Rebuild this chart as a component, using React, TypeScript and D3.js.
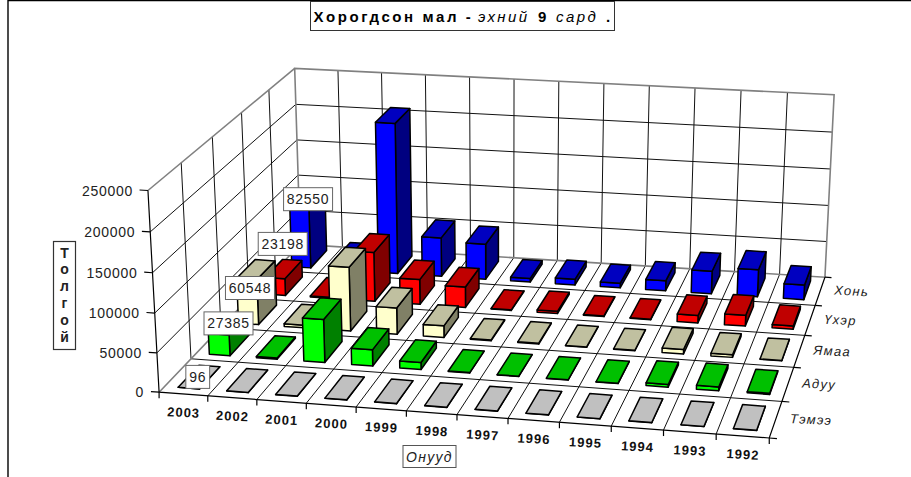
import React from "react";
import * as d3 from "d3";

const years = ["2003","2002","2001","2000","1999","1998","1997","1996","1995","1994","1993","1992"];
const seriesNames = ["Тэмээ","Адуу","Ямаа","Үхэр","Хонь"];
const temee = [96,250,200,200,200,200,200,200,200,200,200,200];
const aduu = [27385,1500,56000,21000,9000,500,300,300,300,3500,5000,1500];
const yamaa = [60548,3500,85000,35000,15500,1000,1000,500,500,6000,3500,500];
const uher = [23198,1500,67000,34000,28000,800,3000,1000,800,10000,14500,4500];
const hon = [82550,14000,208000,54000,49000,5000,8000,6500,14000,31000,37000,20000];
const seriesValues = [temee,aduu,yamaa,uher,hon];
const valueTicks = [0,50000,100000,150000,200000,250000];
const frontColors = ["#C0C0C0","#00FF00","#FFFFCC","#FF0000","#0000FF"];
const topColors = ["#C0C0C0","#00C000","#C0C0A0","#C00000","#0000C0"];
const sideColors = ["#808080","#008000","#808066","#800000","#000080"];
// Pixel nudges of the 2003 data labels from the centre of each bar's top.
const labelNudges: [number,number][] = [[-1.5,0],[0,-0.5],[-6,18.5],[-1,-25],[0.5,-1.5]];

// Cube corners of the 3D plot frame as they appear on the page.
const anchors: [number,number,number,number,number][] = [
  [0,0,0,159.3,391.7],[1,0,0,769.3,438.3],[1,0,1,825,276.7],[0,0,1,300,245],
  [0,1,0,147.7,190.7],[0,1,1,295,68],[1,1,1,834,95],
];
function solveCamera(): number[] {
  const A: number[][] = [], b: number[] = [];
  anchors.forEach(([x,y,z,u,v]) => {
    A.push([x,y,z,1,0,0,0,0,-u*x,-u*y,-u*z]); b.push(u);
    A.push([0,0,0,0,x,y,z,1,-v*x,-v*y,-v*z]); b.push(v);
  });
  const n = 11;
  const M = d3.range(n).map(i => [...d3.range(n).map(j => d3.sum(A, r => r[i]*r[j])), d3.sum(A.map((r,k)=>r[i]*b[k]))]);
  for (let i=0;i<n;i++){
    let p=i; for(let r=i+1;r<n;r++) if(Math.abs(M[r][i])>Math.abs(M[p][i])) p=r;
    [M[i],M[p]]=[M[p],M[i]];
    for(let r=0;r<n;r++){ if(r===i) continue; const f=M[r][i]/M[i][i]; for(let c=i;c<=n;c++) M[r][c]-=f*M[i][c]; }
  }
  return M.map((r,i)=>r[n]/r[i]);
}
const cam = solveCamera();
const P = (x:number,y:number,z:number):[number,number] => {
  const w = cam[8]*x+cam[9]*y+cam[10]*z+1;
  return [(cam[0]*x+cam[1]*y+cam[2]*z+cam[3])/w,(cam[4]*x+cam[5]*y+cam[6]*z+cam[7])/w];
};
const xBand = d3.scaleBand<string>().domain(years).range([0,1]).paddingInner(0.56).paddingOuter(0.28);
const zBand = d3.scaleBand<string>().domain(seriesNames).range([0,1]).paddingInner(0.34).paddingOuter(0.17);
const yScale = d3.scaleLinear().domain([0,250000]).range([0,1]);
const lineGen = d3.line();
const poly = (pts:[number,number][]) => lineGen(pts)+"Z";
const seg = (a:[number,number],b:[number,number]) => lineGen([a,b])!;
const xEdges = d3.range(13).map(i=>i/12);
const zEdges = d3.range(6).map(i=>i/5);
const font = "'Liberation Sans', Arial, sans-serif";
const GRID = "#111";
const WALL = "#808080";

function LabelBox({cx,cy,t}:{cx:number,cy:number,t:string}){
  const w = t.length*8.4+7, h=23;
  return <g>
    <rect x={cx-w/2} y={cy-h/2} width={w} height={h} fill="#fff" stroke="#666" strokeWidth={1}/>
    <text x={cx} y={cy+5} textAnchor="middle" fontFamily={font} fontSize={14} letterSpacing={0.7} fill="#222">{t}</text>
  </g>;
}

export default function App(){
  const bars:React.ReactNode[]=[]; const labels:React.ReactNode[]=[];
  d3.range(seriesNames.length-1,-1,-1).forEach(si=>{
    const s=seriesNames[si];
    years.forEach((yr,xi)=>{
      const v=seriesValues[si][xi];
      const x0=xBand(yr)!,x1=x0+xBand.bandwidth(),z0=zBand(s)!,z1=z0+zBand.bandwidth(),h=yScale(v);
      bars.push(<g key={s+yr} stroke="#000" strokeWidth={1.5} strokeLinejoin="round">
        <path d={poly([P(x1,0,z0),P(x1,0,z1),P(x1,h,z1),P(x1,h,z0)])} fill={sideColors[si]}/>
        <path d={poly([P(x0,0,z0),P(x1,0,z0),P(x1,h,z0),P(x0,h,z0)])} fill={frontColors[si]}/>
        <path d={poly([P(x0,h,z0),P(x1,h,z0),P(x1,h,z1),P(x0,h,z1)])} fill={topColors[si]}/>
      </g>);
      if(xi===0){
        const [cx,cy]=P((x0+x1)/2,h,(z0+z1)/2);
        const [dx,dy]=labelNudges[si];
        labels.push(<LabelBox key={s} cx={cx+dx} cy={cy+dy} t={String(v)}/>);
      }
    });
  });
  return <svg width={911} height={477} style={{position:"absolute",left:0,top:0,background:"#fff"}}>
    <path d="M8,477V0.6H911" fill="none" stroke="#000" strokeWidth={1.4}/>
    <g fill="none" stroke={GRID} strokeWidth={1}>
      {valueTicks.slice(1,-1).map(t=>{const y=yScale(t);return <g key={t}>
        <path d={seg(P(0,y,0),P(0,y,1))}/><path d={seg(P(0,y,1),P(1,y,1))}/></g>;})}
      {xEdges.slice(1,-1).map(x=><path key={x} d={seg(P(x,0,1),P(x,1,1))}/>)}
      {zEdges.slice(1,-1).map(z=><path key={z} d={seg(P(0,0,z),P(0,1,z))}/>)}
      {xEdges.slice(1,-1).map(x=><path key={"f"+x} d={seg(P(x,0,0),P(x,0,1))}/>)}
      {zEdges.slice(1,-1).map(z=><path key={"g"+z} d={seg(P(0,0,z),P(1,0,z))}/>)}
    </g>
    <path d={lineGen([P(0,0,0),P(0,0,1),P(1,0,1),P(1,1,1),P(0,1,1),P(0,0,1)])!} fill="none" stroke={WALL} strokeWidth={1.6}/>
    <path d={lineGen([P(0,1,0),P(0,1,1)])!} fill="none" stroke={WALL} strokeWidth={1.6}/>
    <g fill="none" stroke="#000" strokeWidth={1.2}>
      <path d={lineGen([P(0,1,0),P(0,0,0),P(1,0,0),P(1,0,1)])!}/>
      {valueTicks.map(t=><path key={t} d={seg(P(-0.014,yScale(t),0),P(0,yScale(t),0))}/>)}
      {xEdges.map(x=>{const [a,b]=P(x,0,0);return <path key={x} d={seg([a,b],[a,b+6])}/>;})}
      {zEdges.map(z=><path key={z} d={seg(P(1,0,z),P(1.012,0,z))}/>)}
    </g>
    {valueTicks.map(t=>{const [a,b]=P(0,yScale(t),0);return <text key={t} x={a-15} y={b+5} textAnchor="end" fontFamily={font} fontSize={14} letterSpacing={0.7} fill="#222">{t}</text>;})}
    {years.map((yr,i)=>{const [a,b]=P((i+0.5)/12,0,0);return <text key={yr} transform={`translate(${a},${b+23}) rotate(3)`} textAnchor="middle" fontFamily={font} fontSize={13} fontWeight="bold" letterSpacing={1} fill="#111">{yr}</text>;})}
    {seriesNames.map((s,i)=>{const [a,b]=P(1,0,(i+0.5)/5);return <text key={s} transform={`translate(${a+14},${b+3.5}) rotate(3)`} fontFamily={font} fontSize={13} fontStyle="italic" letterSpacing={1.3} fill="#222">{s}</text>;})}
    {bars}
    {labels}
    <rect x={310.5} y={1.5} width={304} height={29} fill="#fff" stroke="#333" strokeWidth={1}/>
    <text y={21.5} fontFamily={font} fontSize={15} fill="#000">
      <tspan x={313.5} fontWeight="bold" letterSpacing={2.6}>Хорогдсон мал -</tspan>
      <tspan x={478} fontStyle="italic" letterSpacing={2.4}>эхний</tspan>
      <tspan x={538} fontWeight="bold">9</tspan>
      <tspan x={556} fontStyle="italic" letterSpacing={2.4}>сард</tspan>
      <tspan x={606} fontWeight="bold">.</tspan>
    </text>
    <rect x={403} y={445.5} width={53} height={22} fill="#fff" stroke="#555" strokeWidth={1}/>
    <text x={406} y={461.5} fontFamily={font} fontSize={14} fontStyle="italic" letterSpacing={1.3} fill="#222">Онууд</text>
    <rect x={53.5} y={241.5} width={22} height={108} fill="#fff" stroke="#333" strokeWidth={1.2}/>
    {"Толгой".split("").map((c,i)=><text key={i} x={64.5} y={257.5+i*16.9} textAnchor="middle" fontFamily={font} fontSize={14} fontWeight="bold" fill="#222">{c}</text>)}
  </svg>;
}
